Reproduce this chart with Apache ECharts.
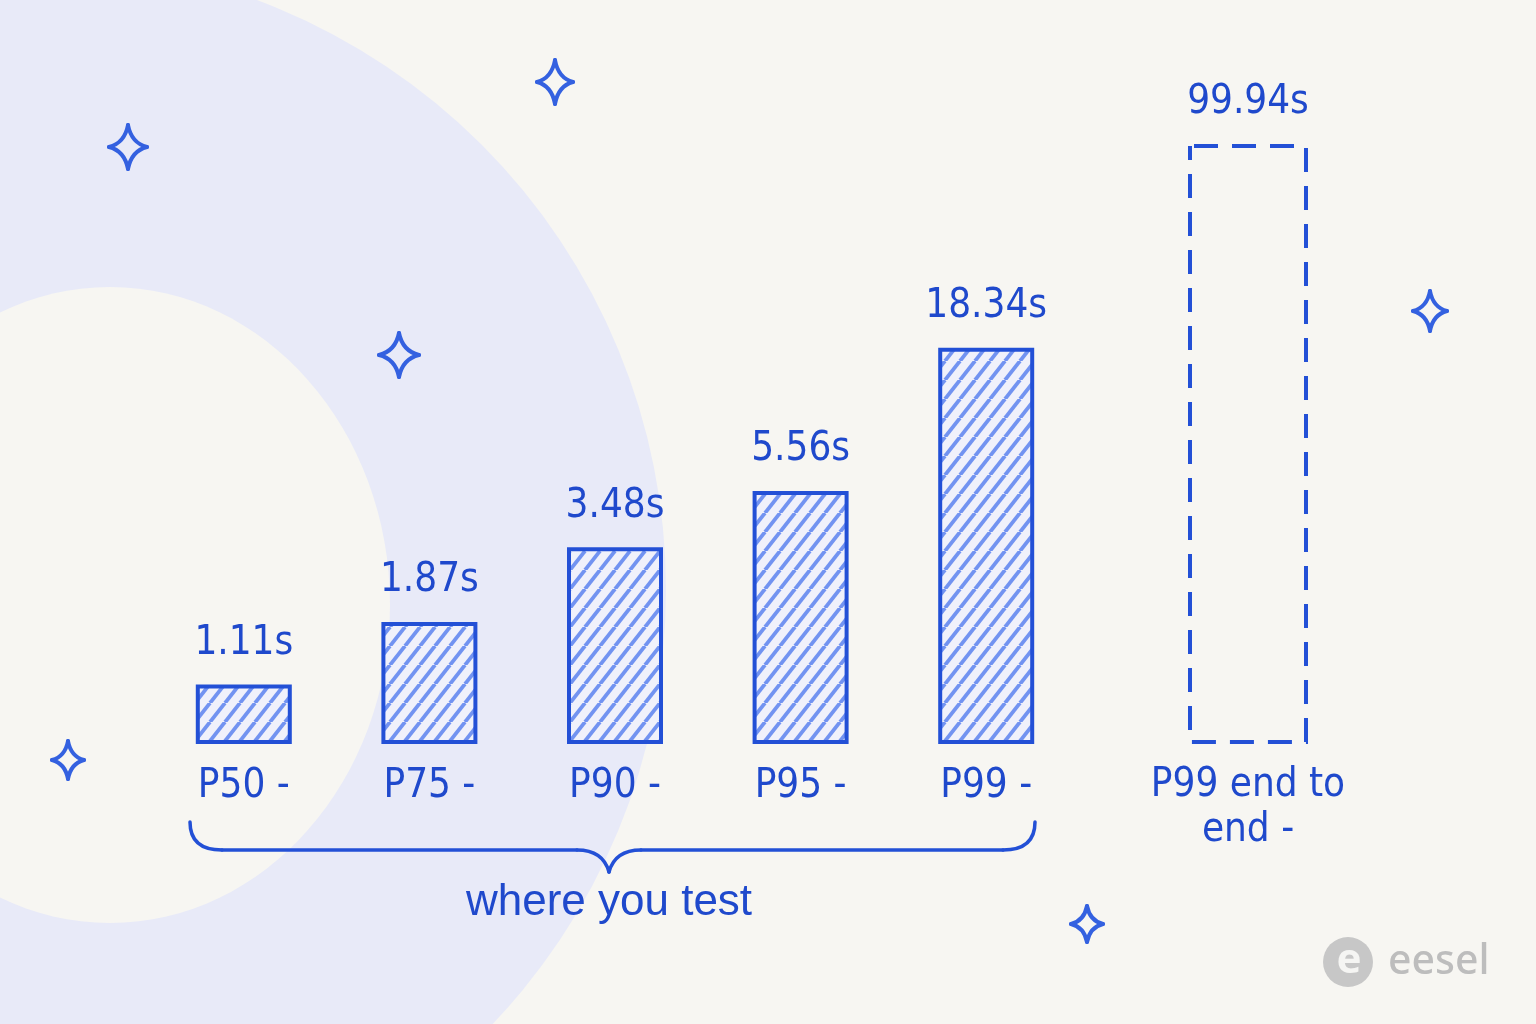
<!DOCTYPE html>
<html>
<head>
<meta charset="utf-8">
<script src="https://cdn.jsdelivr.net/npm/echarts@6/dist/echarts.min.js"></script>
<style>
html,body{margin:0;padding:0;background:#f7f6f2;}
#chart{width:1536px;height:1024px;}
</style>
</head>
<body>
<div id="chart"></div>
<script>
// ---- data ----
const testCategories = ['P50 -', 'P75 -', 'P90 -', 'P95 -', 'P99 -'];
const testValues = [1.11, 1.87, 3.48, 5.56, 18.34];
const e2eCategories = ['P99 end to\nend -'];
const e2eValues = [99.94];
const groupLabel = 'where you test';
const unitSuffix = 's';

// ---- styles ----
const BLUE = '#2350d6';
const TEXT = '#1f49cc';
const Y_MIN = 0.7, Y_MAX = 100;
const FONT_FAMILY = "'Liberation Sans Narrow', 'DejaVu Sans Condensed', 'Roboto', sans-serif";
const NUM_FONT = "40px " + FONT_FAMILY;

// hatch pattern
function makeHatch() {
  const W = 15, H = 19;
  const c = document.createElement('canvas');
  c.width = W; c.height = H;
  const g = c.getContext('2d');
  g.fillStyle = '#f0f1fb';
  g.fillRect(0, 0, W, H);
  g.strokeStyle = 'rgba(92,130,238,0.85)';
  g.lineWidth = 3.8;
  for (let k = -1; k <= 1; k++) {
    g.beginPath();
    g.moveTo(k * W, H);
    g.lineTo(k * W + W, 0);
    g.stroke();
  }
  return c;
}
const hatch = { image: makeHatch(), repeat: 'repeat' };

function barRenderer(barW, dashed) {
  return function (params, api) {
    const idx = api.value(0);
    const v = api.value(1);
    const top = api.coord([idx, v]);
    const base = api.coord([idx, Y_MIN]);
    const rectStyle = dashed
      ? { fill: 'none', stroke: BLUE, lineWidth: 4, lineDash: [24, 14], lineDashOffset: -4 }
      : { fill: hatch, stroke: BLUE, lineWidth: 4 };
    return {
      type: 'group',
      children: [
        { type: 'rect', shape: { x: top[0] - barW / 2, y: top[1], width: barW, height: base[1] - top[1] }, style: rectStyle },
        { type: 'text', style: { x: top[0], y: top[1] - 43, text: v.toFixed(2) + unitSuffix, align: 'center', verticalAlign: 'middle', font: NUM_FONT, fill: TEXT } }
      ]
    };
  };
}

const SPARK_STYLE = { fill: 'none', stroke: '#3461e0', lineWidth: 4, lineCap: 'round' };
function sparkle(cx, cy, rx, ry) {
  const k = 0.18;
  const pts = [[cx, cy - ry], [cx + rx, cy], [cx, cy + ry], [cx - rx, cy]];
  const children = [];
  for (let i = 0; i < 4; i++) {
    const a = pts[i], b = pts[(i + 1) % 4];
    const cpx = cx + (a[0] - cx + b[0] - cx) * k;
    const cpy = cy + (a[1] - cy + b[1] - cy) * k;
    children.push({ type: 'bezierCurve', z: 3, silent: true, shape: { x1: a[0], y1: a[1], x2: b[0], y2: b[1], cpx1: cpx, cpy1: cpy }, style: SPARK_STYLE });
  }
  return { type: 'group', silent: true, children: children };
}
const sparkles = [[128, 147, 19, 22], [555, 82, 18, 22], [399, 355, 20, 22], [68, 760, 16, 19], [1087, 924, 16, 18], [1430, 311, 17, 20]];

const BRACE_STYLE = { fill: 'none', stroke: BLUE, lineWidth: 3.5, lineCap: 'round' };
const brace = {
  type: 'group', silent: true,
  children: [
    { type: 'bezierCurve', z: 3, shape: { x1: 190, y1: 822, cpx1: 190, cpy1: 850, x2: 222, y2: 850 }, style: BRACE_STYLE },
    { type: 'line', z: 3, shape: { x1: 222, y1: 850, x2: 577, y2: 850 }, style: BRACE_STYLE },
    { type: 'bezierCurve', z: 3, shape: { x1: 577, y1: 850, cpx1: 603, cpy1: 850, x2: 609, y2: 872 }, style: BRACE_STYLE },
    { type: 'bezierCurve', z: 3, shape: { x1: 609, y1: 872, cpx1: 615, cpy1: 850, x2: 641, y2: 850 }, style: BRACE_STYLE },
    { type: 'line', z: 3, shape: { x1: 641, y1: 850, x2: 1003, y2: 850 }, style: BRACE_STYLE },
    { type: 'bezierCurve', z: 3, shape: { x1: 1003, y1: 850, cpx1: 1035, cpy1: 850, x2: 1035, y2: 822 }, style: BRACE_STYLE }
  ]
};

const chart = echarts.init(document.getElementById('chart'), null, { renderer: 'canvas' });

const yAxisCommon = {
  type: 'log', min: Y_MIN, max: Y_MAX,
  axisLine: { show: false }, axisTick: { show: false }, axisLabel: { show: false }, splitLine: { show: false }
};
const xAxisCommon = {
  type: 'category', z: 4,
  axisLine: { show: false }, axisTick: { show: false }, splitLine: { show: false }
};

const option = {
  backgroundColor: '#f7f6f2',
  animation: false,
  grid: [
    { left: 151, width: 928, top: 146, bottom: 282 },
    { left: 1155, width: 186, top: 146, bottom: 282 }
  ],
  xAxis: [
    Object.assign({}, xAxisCommon, { gridIndex: 0, data: testCategories,
      axisLabel: { color: TEXT, fontFamily: FONT_FAMILY, fontSize: 40, margin: 45, verticalAlign: 'middle' } }),
    Object.assign({}, xAxisCommon, { gridIndex: 1, data: e2eCategories,
      axisLabel: { color: TEXT, fontFamily: FONT_FAMILY, fontSize: 40, lineHeight: 45, margin: 66, verticalAlign: 'middle', align: 'center' } })
  ],
  yAxis: [
    Object.assign({}, yAxisCommon, { gridIndex: 0 }),
    Object.assign({}, yAxisCommon, { gridIndex: 1 })
  ],
  series: [
    { type: 'custom', xAxisIndex: 0, yAxisIndex: 0, clip: false, z: 5,
      encode: { x: 0, y: 1 },
      data: testValues.map((v, i) => [i, v]),
      renderItem: barRenderer(92, false) },
    { type: 'custom', xAxisIndex: 1, yAxisIndex: 1, clip: false, z: 5,
      encode: { x: 0, y: 1 },
      data: e2eValues.map((v, i) => [i, v]),
      renderItem: barRenderer(116, true) }
  ],
  graphic: [
    { type: 'circle', z: -10, silent: true, shape: { cx: 36, cy: 590, r: 630 }, style: { fill: '#e8eaf8' } },
    { type: 'ellipse', z: -9, silent: true, shape: { cx: 110, cy: 605, rx: 280, ry: 318 }, style: { fill: '#f7f6f2' } },
    ...sparkles.map(s => sparkle(s[0], s[1], s[2], s[3])),
    brace,
    { type: 'text', z: 3, silent: true,
      style: { x: 609, y: 903, text: groupLabel, align: 'center', verticalAlign: 'middle',
        font: "44px 'Liberation Sans', 'Noto Sans', sans-serif", fill: TEXT } },
    { type: 'circle', z: 3, silent: true, shape: { cx: 1348, cy: 962, r: 25 }, style: { fill: '#c7c7c7' } },
    { type: 'text', z: 4, silent: true,
      style: { x: 1349, y: 961, text: 'e', align: 'center', verticalAlign: 'middle',
        font: "bold 42px 'Noto Sans', sans-serif", fill: '#f5f5f3' } },
    { type: 'text', z: 3, silent: true,
      style: { x: 1388, y: 962, text: 'eesel', align: 'left', verticalAlign: 'middle',
        font: "500 41px 'Noto Sans', sans-serif", fill: '#bdbdbd' } }
  ]
};
chart.setOption(option);
</script>
</body>
</html>
